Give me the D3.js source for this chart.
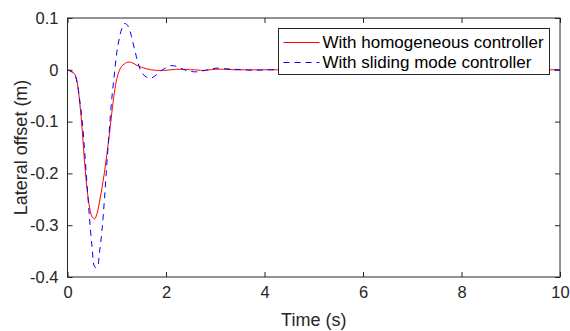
<!DOCTYPE html>
<html>
<head>
<meta charset="utf-8">
<script src="https://cdn.jsdelivr.net/npm/d3@7"></script>
<style>
  body { margin: 0; background: #fff; }
  svg { display: block; font-family: "Liberation Sans", Arial, Helvetica, sans-serif; }
</style>
</head>
<body>
<div id="chart"></div>
<script>
// sample times (s)
const time = [0, 0.05, 0.1, 0.15, 0.2, 0.25, 0.3, 0.35, 0.4, 0.45, 0.5, 0.55, 0.6, 0.65, 0.7, 0.75,
  0.8, 0.85, 0.9, 0.95, 1.0, 1.05, 1.1, 1.15, 1.2, 1.25, 1.3, 1.35, 1.4, 1.45, 1.5, 1.6, 1.7, 1.8,
  1.9, 2.0, 2.1, 2.2, 2.3, 2.4, 2.5, 2.6, 2.7, 2.8, 2.9, 3.0, 3.2, 3.4, 3.6, 3.8, 4.0, 4.5, 5, 6, 7, 8, 9, 10];

// lateral offset, homogeneous controller (m)
const homogeneous = [0, -0.002, -0.004, -0.009, -0.026, -0.065, -0.118, -0.182, -0.232, -0.266, -0.284,
  -0.288, -0.277, -0.255, -0.228, -0.198, -0.163, -0.125, -0.083, -0.045, -0.018, -0.002, 0.007, 0.011,
  0.014, 0.015, 0.014, 0.012, 0.009, 0.007, 0.005, 0.002, 0, -0.001, -0.001, -0.001, 0, 0.001, 0.001,
  0.001, 0, 0, -0.001, -0.001, 0, 0.001, 0.001, 0, 0, 0, 0, 0, 0, 0, 0, 0, 0, 0];

// lateral offset, sliding mode controller (m)
const slidingMode = [0, -0.002, -0.005, -0.01, -0.027, -0.06, -0.1, -0.16, -0.225, -0.29, -0.343,
  -0.38, -0.382, -0.352, -0.31, -0.25, -0.18, -0.115, -0.055, -0.01, 0.033, 0.06, 0.079, 0.089, 0.088,
  0.08, 0.064, 0.044, 0.025, 0.008, -0.004, -0.014, -0.016, -0.01, -0.002, 0.004, 0.008, 0.007, 0.003,
  -0.001, -0.003, -0.004, -0.003, -0.001, 0.001, 0.003, 0.002, 0.001, 0, -0.001, 0, 0, 0, 0, 0, 0, 0, 0];

const xTicks = [0, 2, 4, 6, 8, 10];
const yTicks = [0.1, 0, -0.1, -0.2, -0.3, -0.4];
const legendLabels = ["With homogeneous controller", "With sliding mode controller"];

const width = 570, height = 331;
const margin = { top: 18, right: 10, bottom: 54, left: 67.5 };
const innerW = width - margin.left - margin.right;
const innerH = height - margin.top - margin.bottom;
const ink = "#262626";

const svg = d3.select("#chart").append("svg")
  .attr("width", width)
  .attr("height", height);

const g = svg.append("g").attr("transform", `translate(${margin.left},${margin.top})`);

const x = d3.scaleLinear().domain([0, 10]).range([0, innerW]);
const y = d3.scaleLinear().domain([-0.4, 0.1]).range([innerH, 0]);

// matlab style labels: plain hyphen, no trailing zeros
const fmtY = (d) => (d === 0 ? "0" : d3.format(".1f")(d).replace("−", "-"));
const fmtX = (d) => String(d);

// axes, ticks pointing inward on all four sides
const xBottom = g.append("g").attr("transform", `translate(0,${innerH})`)
  .call(d3.axisBottom(x).tickValues(xTicks).tickSizeInner(-5).tickSizeOuter(0).tickPadding(9).tickFormat(fmtX));
const xTop = g.append("g")
  .call(d3.axisTop(x).tickValues(xTicks).tickSizeInner(-5).tickSizeOuter(0).tickFormat(""));
const yLeft = g.append("g")
  .call(d3.axisLeft(y).tickValues(yTicks).tickSizeInner(-5).tickSizeOuter(0).tickPadding(9).tickFormat(fmtY));
const yRight = g.append("g").attr("transform", `translate(${innerW},0)`)
  .call(d3.axisRight(y).tickValues(yTicks).tickSizeInner(-5).tickSizeOuter(0).tickFormat(""));

[xBottom, xTop, yLeft, yRight].forEach((a) => {
  a.select(".domain").remove();
  a.selectAll("line").attr("stroke", ink);
  a.selectAll("text").attr("fill", ink).style("font-size", "16.5px");
});

g.append("clipPath").attr("id", "clip")
  .append("rect").attr("width", innerW).attr("height", innerH);

const line = (vals) => d3.line()
  .x((d, i) => x(time[i]))
  .y((d) => y(d))
  .curve(d3.curveCatmullRom.alpha(0.5))(vals);

const plot = g.append("g").attr("clip-path", "url(#clip)");

plot.append("path")
  .attr("d", line(homogeneous))
  .attr("fill", "none")
  .attr("stroke", "#ff0000")
  .attr("stroke-width", 1);

plot.append("path")
  .attr("d", line(slidingMode))
  .attr("fill", "none")
  .attr("stroke", "#0000ff")
  .attr("stroke-width", 1)
  .attr("stroke-dasharray", "6,5");

// box
g.append("rect")
  .attr("width", innerW)
  .attr("height", innerH)
  .attr("fill", "none")
  .attr("stroke", ink)
  .attr("stroke-width", 1);

// axis labels
svg.append("text")
  .attr("x", margin.left + innerW / 2)
  .attr("y", 326)
  .attr("text-anchor", "middle")
  .attr("fill", ink)
  .style("font-size", "18px")
  .text("Time (s)");

svg.append("text")
  .attr("transform", `translate(27,${margin.top + innerH / 2}) rotate(-90)`)
  .attr("text-anchor", "middle")
  .attr("fill", ink)
  .style("font-size", "18px")
  .text("Lateral offset (m)");

// legend
const legend = svg.append("g").attr("transform", "translate(278.5,28.5)");
legend.append("rect")
  .attr("width", 271)
  .attr("height", 46)
  .attr("fill", "#fff")
  .attr("stroke", ink)
  .attr("stroke-width", 1);

const styles = [
  { color: "#ff0000", dash: null },
  { color: "#0000ff", dash: "6,5" }
];

legendLabels.forEach((label, i) => {
  const row = legend.append("g").attr("transform", `translate(0,${14 + i * 20})`);
  row.append("line")
    .attr("x1", 5).attr("x2", 41)
    .attr("stroke", styles[i].color)
    .attr("stroke-dasharray", styles[i].dash);
  row.append("text")
    .attr("x", 44)
    .attr("dy", "0.35em")
    .attr("fill", "#000")
    .style("font-size", "17px")
    .text(label);
});
</script>
</body>
</html>
